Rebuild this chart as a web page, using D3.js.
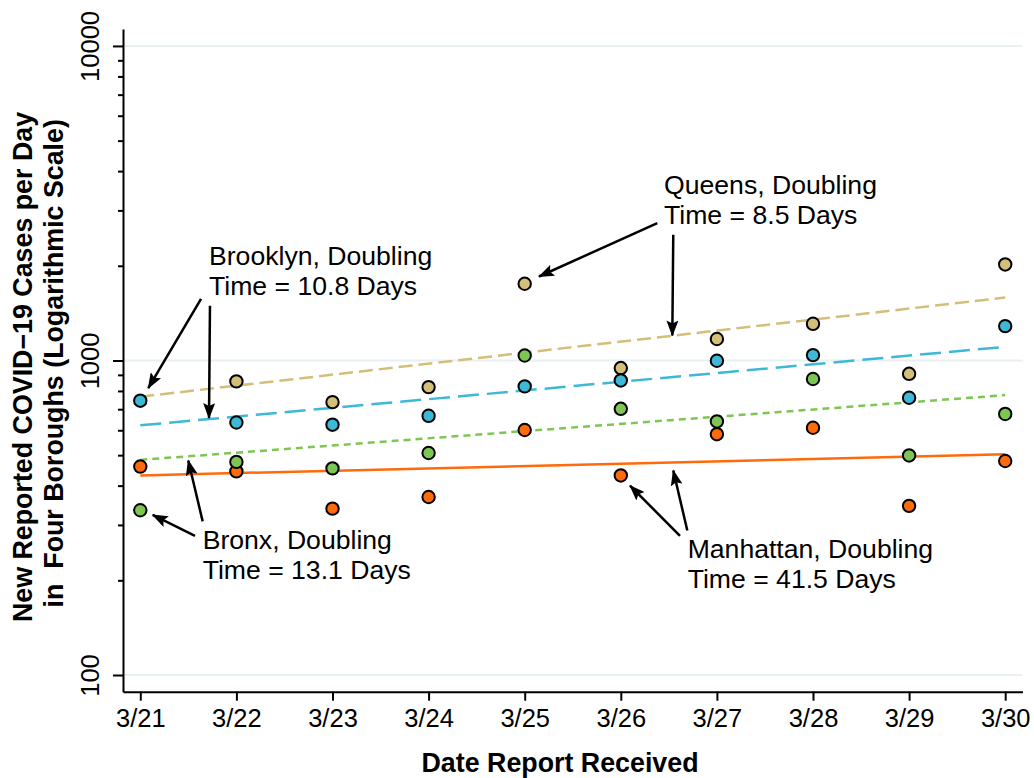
<!DOCTYPE html>
<html>
<head>
<meta charset="utf-8">
<script src="https://cdn.jsdelivr.net/npm/d3@7"></script>
<style>
  body { margin: 0; background: #fff; }
  svg { display: block; font-family: Helvetica, Arial, 'Liberation Sans', sans-serif; }
</style>
</head>
<body>
<svg id="chart" width="1034" height="778"></svg>
<script>
// report dates, one column per day
const dates = ['3/21', '3/22', '3/23', '3/24', '3/25', '3/26', '3/27', '3/28', '3/29', '3/30'];

// new reported cases per day
const queens    = [null, 858, 737, 823, 1754, 946, 1170, 1308, 907, 2020];
const brooklyn  = [745, 635, 625, 667, 827, 864, 998, 1040, 761, 1286];
const bronx     = [334, 476, 454, 508, 1037, 702, 640, 873, 499, 676];
const manhattan = [460, 444, 338, 368, 601, 431, 583, 611, 345, 479];

// fitted trend, value at 3/21 and at 3/30
const trendStart = { queens: 767, brooklyn: 622, bronx: 483, manhattan: 431 };
const trendEnd   = { queens: 1585, brooklyn: 1105, bronx: 776, manhattan: 503 };

const yMajor = [100, 1000, 10000];
const yMinor = [200, 300, 400, 500, 600, 700, 800, 900, 2000, 3000, 4000, 5000, 6000, 7000, 8000, 9000];

// annotations: text anchor and arrows in (day index, cases) space
const notes = [
    { lines: ['Brooklyn, Doubling', 'Time = 10.8 Days'], at: [0.715, 2015],
      arrows: [[[0.632, 1571], [0.083, 817]], [[0.725, 1493], [0.715, 656]]] },
    { lines: ['Bronx, Doubling', 'Time = 13.1 Days'], at: [0.649, 252],
      arrows: [[[0.569, 277], [0.129, 323]], [[0.649, 308], [0.499, 481]]] },
    { lines: ['Queens, Doubling', 'Time = 8.5 Days'], at: [5.45, 3382],
      arrows: [[[5.38, 2734], [4.149, 1849]], [[5.546, 2510], [5.536, 1201]]] },
    { lines: ['Manhattan, Doubling', 'Time = 41.5 Days'], at: [5.696, 235],
      arrows: [[[5.616, 277], [5.096, 400]], [[5.692, 288], [5.546, 447]]] }
];

const boroughs = [
    { key: 'queens',    values: queens,    color: '#d3be7a', dash: '14,6' },
    { key: 'brooklyn',  values: brooklyn,  color: '#3eb8d7', dash: '21,8' },
    { key: 'manhattan', values: manhattan, color: '#ff6a0a', dash: null },
    { key: 'bronx',     values: bronx,     color: '#7dc653', dash: '7,5' }
];

const svg = d3.select('#chart');

const x = d3.scaleLinear().domain([-0.18, 9.18]).range([123, 1022.5]);
const y = d3.scaleLog().domain([88.5, 11320]).range([691.7, 29]);

// gridlines
svg.append('g')
    .selectAll('line')
    .data(yMajor)
    .join('line')
    .attr('x1', x.range()[0])
    .attr('x2', x.range()[1])
    .attr('y1', d => y(d))
    .attr('y2', d => y(d))
    .attr('stroke', '#e8f0f2')
    .attr('stroke-width', 2);

// y axis, major ticks with rotated labels
let yAxis = svg.append('g')
    .attr('transform', `translate(${x.range()[0]},0)`)
    .call(d3.axisLeft(y).tickValues(yMajor).tickSize(10).tickSizeOuter(0).tickFormat(d3.format('d')));

yAxis.selectAll('text')
    .attr('transform', 'rotate(-90)')
    .attr('x', 0)
    .attr('y', -24)
    .attr('dy', 0)
    .attr('text-anchor', 'middle')
    .attr('fill', '#000')
    .style('font-size', '25.5px');

// y axis minor ticks
svg.append('g')
    .attr('transform', `translate(${x.range()[0]},0)`)
    .call(d3.axisLeft(y).tickValues(yMinor).tickSize(5).tickFormat(''))
    .select('.domain').remove();

// x axis
let xAxis = svg.append('g')
    .attr('transform', `translate(0,${y.range()[0]})`)
    .call(d3.axisBottom(x).tickValues(d3.range(dates.length)).tickSize(9).tickPadding(8)
        .tickSizeOuter(0).tickFormat(i => dates[i]));

xAxis.selectAll('text')
    .attr('fill', '#000')
    .style('font-size', '25.5px');

svg.selectAll('.domain, .tick line')
    .attr('stroke', '#000')
    .attr('stroke-width', 2);

// axis titles
svg.append('text')
    .attr('x', 560)
    .attr('y', 771.5)
    .attr('text-anchor', 'middle')
    .style('font-size', '26.8px')
    .style('font-weight', 'bold')
    .text('Date Report Received');

let yTitle = svg.append('text')
    .attr('transform', 'translate(32,367) rotate(-90)')
    .attr('text-anchor', 'middle')
    .style('font-size', '26.8px')
    .style('font-weight', 'bold');

yTitle.append('tspan').attr('x', 0).attr('y', 0).text('New Reported COVID\u221219 Cases per Day');
yTitle.append('tspan').attr('x', 0).attr('y', 31)
    .style('white-space', 'pre').text(' in  Four Boroughs (Logarithmic Scale)');

// trend lines
svg.append('g')
    .selectAll('line')
    .data(boroughs)
    .join('line')
    .attr('x1', x(0))
    .attr('x2', x(dates.length - 1))
    .attr('y1', d => y(trendStart[d.key]))
    .attr('y2', d => y(trendEnd[d.key]))
    .attr('stroke', d => d.color)
    .attr('stroke-width', 2.5)
    .attr('stroke-dasharray', d => d.dash);

// observed points
boroughs.forEach(b => {
    svg.append('g')
        .selectAll('circle')
        .data(b.values.map((v, i) => ({ i, v })).filter(d => d.v != null))
        .join('circle')
        .attr('cx', d => x(d.i))
        .attr('cy', d => y(d.v))
        .attr('r', 6.2)
        .attr('fill', b.color)
        .attr('stroke', '#000')
        .attr('stroke-width', 2);
});

// arrowhead
svg.append('defs')
    .append('marker')
    .attr('id', 'head')
    .attr('markerUnits', 'userSpaceOnUse')
    .attr('viewBox', '0 0 16 12')
    .attr('markerWidth', 16)
    .attr('markerHeight', 12)
    .attr('refX', 15)
    .attr('refY', 6)
    .attr('orient', 'auto')
    .append('path')
    .attr('d', 'M0,0 L16,6 L0,12 L3,6 Z')
    .attr('fill', '#000');

// annotations
notes.forEach(n => {
    let t = svg.append('text')
        .attr('x', x(n.at[0]))
        .attr('y', y(n.at[1]))
        .style('font-size', '26.6px');
    n.lines.forEach((line, k) => {
        t.append('tspan').attr('x', x(n.at[0])).attr('dy', k === 0 ? 0 : 30).text(line);
    });

    n.arrows.forEach(a => {
        svg.append('line')
            .attr('x1', x(a[0][0]))
            .attr('y1', y(a[0][1]))
            .attr('x2', x(a[1][0]))
            .attr('y2', y(a[1][1]))
            .attr('stroke', '#000')
            .attr('stroke-width', 2.5)
            .attr('marker-end', 'url(#head)');
    });
});
</script>
</body>
</html>
